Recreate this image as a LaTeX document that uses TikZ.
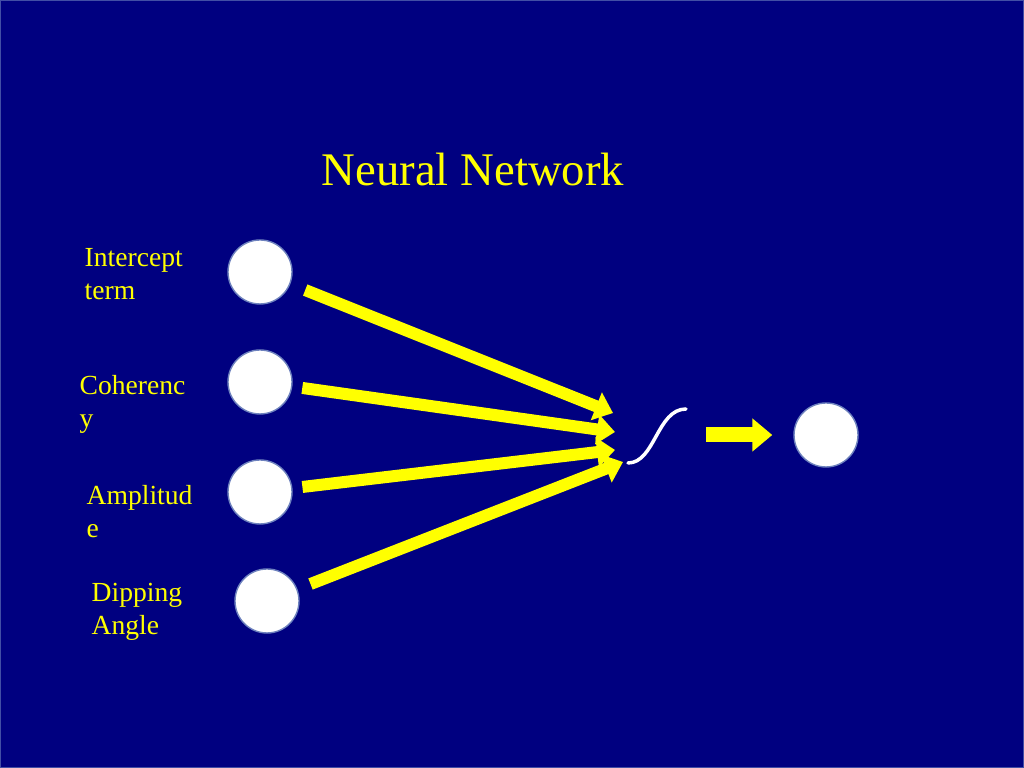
\documentclass[tikz,border=0pt]{standalone}
\usepackage{fontspec}
\setmainfont{Liberation Serif}
\usetikzlibrary{arrows.meta}
\definecolor{navy}{RGB}{0,0,128}
\definecolor{slideyellow}{RGB}{255,255,0}
\definecolor{rim}{RGB}{110,130,190}

\begin{document}
\begin{tikzpicture}[x=0.1mm,y=0.1mm,
                    neuron/.style={circle,fill=white,draw=rim,thin,inner sep=0pt,
                    minimum size=6.4mm},
                    feature/.style={text=slideyellow,align=left,anchor=west,inner sep=0pt,
                    font=\fontsize{7.85}{9.4}\selectfont},
                    weight/.style={draw=slideyellow,line width=1.2mm,
                    -{Triangle[length=1.8mm,width=2.9mm]}}]
  \useasboundingbox (0,0) rectangle (1024,768);
  \fill[navy] (0,0) rectangle (1024,768);
  \draw[rim!60!navy,line width=0.1mm] (0.5,0.5) rectangle (1023.5,767.5);

  \node[text=slideyellow,font=\fontsize{13.3}{15}\selectfont] (title) at (473,598) {Neural Network};

  \node[neuron] (IT)  at (260,496) {};
  \node[neuron] (CO)  at (260,386) {};
  \node[neuron] (AM)  at (260,276) {};
  \node[neuron] (DA)  at (267,167) {};
  \node[neuron] (OUT) at (826,333) {};

  \node[feature] (lIT) at (84,494)  {Intercept\\term};
  \node[feature] (lCO) at (79,364)    {Coherenc\\y};
  \node[feature] (lAM) at (86,256.5)  {Amplitud\\e};
  \node[feature] (lDA) at (91,156.5)  {Dipping\\Angle};

  \coordinate (h1) at (613,355);
  \coordinate (h2) at (615,336);
  \coordinate (h3) at (615,318);
  \coordinate (h4) at (623,306);
  \coordinate (sigout) at (690,333);

  \draw[weight,shorten <=1.6mm] (IT) -- (h1);
  \draw[weight,shorten <=1.0mm] (CO) -- (h2);
  \draw[weight,shorten <=1.0mm] (AM) -- (h3);
  \draw[weight,shorten <=1.4mm] (DA) -- (h4);

  % sigmoid
  \draw[white,line width=0.35mm,line cap=round]
    (628,305) .. controls (655,305) and (657,359) .. (686,359);

  \draw[draw=slideyellow,line width=1.5mm,-{Triangle[length=2mm,width=3.2mm]},
        shorten <=1.6mm,shorten >=2.1mm] (sigout) -- (OUT);
\end{tikzpicture}
\end{document}
